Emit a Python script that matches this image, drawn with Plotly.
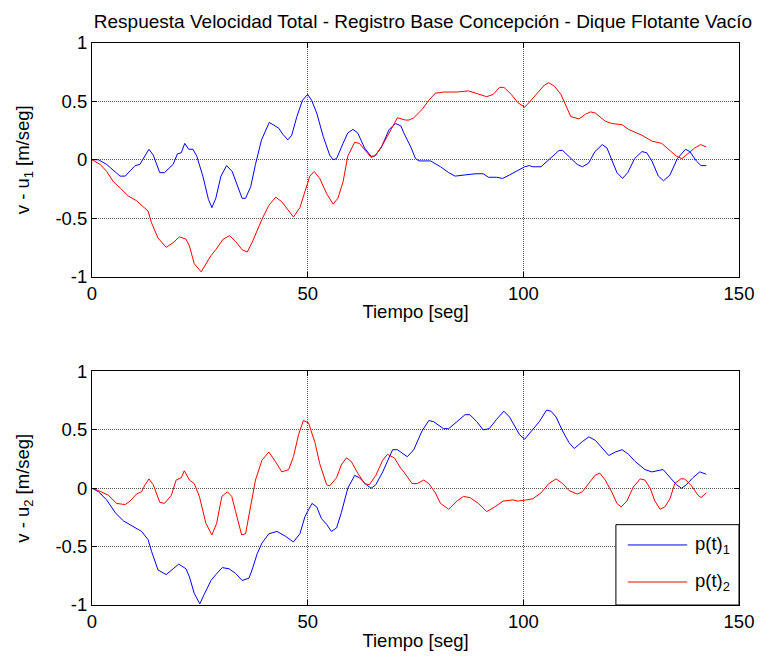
import plotly.graph_objects as go
from plotly.subplots import make_subplots

# ---------------- data ----------------
title_text = "Respuesta Velocidad Total - Registro Base Concepción - Dique Flotante Vacío"
x_ticks = [0, 50, 100, 150]
y_ticks = [-1, -0.5, 0, 0.5, 1]
y_tick_labels = ["-1", "-0.5", "0", "0.5", "1"]
legend_names = ["p(t)<sub>1</sub>", "p(t)<sub>2</sub>"]

# top panel (v - u1)
t_top_p1 = [0, 1.5, 3.4, 5, 6.5, 7.7, 10, 11.1, 12.3, 13.2, 14.2, 15.7, 16.8, 18.8, 19.8, 20.7, 21.5, 22.4,
            23.4, 24.3, 25.7, 27, 27.8, 28.7, 29.9, 31.2, 32.5, 33.7, 34.8, 35.6, 36.8, 37.9, 39.3, 41.1,
            43.3, 44.2, 45.4, 46.3, 47.5, 48.8, 50, 50.9, 52.1, 53.6, 55.1, 55.9, 56.7, 58.2, 59.3, 60.5,
            61.6, 63.2, 64.7, 65.5, 67, 68.9, 70.4, 71.6, 72.3, 73.9, 75, 75.8, 78.5, 80.8, 82.7, 84.2,
            86.9, 88.8, 90.7, 91.9, 93.8, 95.2, 96.8, 98.7, 100.3, 101.4, 102.2, 104.1, 106.2, 108.3,
            109.1, 111, 112.5, 113.7, 115.1, 116.6, 118.3, 119.4, 120.6, 121.7, 123, 124.2, 125.8, 127.5,
            128.6, 129.8, 131.3, 132.5, 134, 135.7, 137.6, 138.6, 140.1, 141.2, 142.4]
v_top_p1 = [0, 0, -0.04, -0.09, -0.14, -0.14, -0.05, -0.04, 0.04, 0.09, 0.04, -0.11, -0.11, -0.04, 0.05, 0.06,
            0.14, 0.09, 0.09, 0.03, -0.14, -0.34, -0.41, -0.33, -0.14, -0.05, -0.10, -0.23, -0.33, -0.33,
            -0.23, -0.04, 0.17, 0.32, 0.27, 0.22, 0.17, 0.21, 0.37, 0.51, 0.56, 0.51, 0.40, 0.20, 0.04, 0.0,
            0.01, 0.14, 0.23, 0.26, 0.23, 0.10, 0.03, 0.03, 0.10, 0.26, 0.31, 0.29, 0.23, 0.11, 0.01, -0.01,
            -0.01, -0.06, -0.11, -0.14, -0.13, -0.12, -0.12, -0.15, -0.15, -0.16, -0.13, -0.09, -0.06, -0.05,
            -0.06, -0.06, 0.01, 0.08, 0.08, 0.01, -0.04, -0.06, -0.03, 0.07, 0.13, 0.10, -0.01, -0.11, -0.16,
            -0.11, 0.01, 0.07, 0.06, -0.01, -0.14, -0.18, -0.13, 0.01, 0.09, 0.07, -0.01, -0.05, -0.05]

t_top_p2 = [0, 1.9, 3.4, 5, 6.5, 8.4, 10.3, 11.5, 13, 13.8, 15.3, 17.2, 18.8, 20.3, 21.8, 22.6, 23.7, 25.3,
            26.4, 27.6, 28.7, 30.4, 31.9, 33.3, 34.8, 36, 37.1, 38.3, 39.4, 41, 42.6, 44, 45.6, 46.7, 48.2,
            49.4, 50.5, 51.5, 52.8, 54.4, 55.9, 57, 58.2, 59.3, 60.9, 62, 63.2, 64.7, 65.8, 67.4, 68.9, 70.8,
            72.7, 73.5, 74.6, 76.5, 78.1, 79.6, 81.5, 84.6, 87.3, 89.2, 91.5, 93, 94.5, 95.5, 97.2, 98.7,
            100.3, 101.8, 103.7, 104.9, 105.9, 107.2, 108.7, 109.9, 111, 112.9, 114.4, 115.6, 116.7, 119,
            120.6, 122.9, 124.4, 127.5, 129.8, 132.1, 133.6, 135.5, 136.8, 138.2, 139.7, 141.1, 142.4]
v_top_p2 = [0, -0.04, -0.10, -0.19, -0.24, -0.31, -0.35, -0.39, -0.44, -0.54, -0.67, -0.75, -0.71, -0.66,
            -0.68, -0.74, -0.89, -0.96, -0.89, -0.82, -0.77, -0.68, -0.65, -0.70, -0.77, -0.79, -0.71, -0.60,
            -0.51, -0.39, -0.32, -0.36, -0.44, -0.49, -0.41, -0.26, -0.14, -0.10, -0.16, -0.29, -0.38, -0.33,
            -0.19, 0.03, 0.15, 0.14, 0.09, 0.02, 0.04, 0.13, 0.23, 0.36, 0.34, 0.34, 0.36, 0.43, 0.51, 0.57,
            0.58, 0.58, 0.59, 0.57, 0.54, 0.56, 0.62, 0.62, 0.56, 0.49, 0.45, 0.51, 0.59, 0.64, 0.66, 0.63,
            0.56, 0.46, 0.37, 0.35, 0.39, 0.41, 0.40, 0.33, 0.31, 0.30, 0.26, 0.21, 0.16, 0.14, 0.09, 0.03,
            0.01, 0.05, 0.10, 0.13, 0.11]

# bottom panel (v - u2)
t_bot_p1 = [0, 1.5, 3.4, 5.4, 7.3, 9.6, 11.5, 13, 13.8, 15.3, 17.2, 18.8, 20.1, 21.8, 22.6, 23.7, 25, 26,
            27.6, 28.7, 30.2, 31.8, 33.3, 34.8, 36.4, 37.1, 38.3, 39.4, 41, 42.9, 44.8, 46.7, 48.2, 49.4, 51,
            52.1, 53.2, 54.4, 55.5, 56.7, 57.8, 59.3, 60.9, 62, 63.6, 64.7, 65.8, 67.4, 69.7, 70.8, 73.1,
            74.6, 76.5, 78.1, 79.2, 81.5, 82.7, 84.6, 86.5, 87.6, 89.2, 90.7, 92.1, 93.8, 95.5, 96.8, 98,
            99.1, 100.3, 101.8, 103.7, 105.4, 106.4, 107.6, 109.1, 110.6, 111.8, 113.7, 115.2, 116.7, 118.3,
            119.8, 121.3, 122.9, 124.4, 125.9, 128.2, 129.8, 132.4, 133.6, 135.5, 136.7, 137.8, 139.3,
            140.9, 142.4]
v_bot_p1 = [0, -0.03, -0.10, -0.21, -0.28, -0.33, -0.37, -0.44, -0.54, -0.70, -0.74, -0.69, -0.65, -0.69,
            -0.76, -0.90, -0.99, -0.91, -0.79, -0.74, -0.68, -0.69, -0.73, -0.79, -0.77, -0.70, -0.56, -0.47,
            -0.39, -0.37, -0.41, -0.46, -0.39, -0.24, -0.13, -0.16, -0.26, -0.31, -0.37, -0.34, -0.21, 0.0,
            0.11, 0.09, 0.03, 0.0, 0.03, 0.14, 0.33, 0.33, 0.27, 0.33, 0.49, 0.58, 0.57, 0.51, 0.51, 0.57,
            0.63, 0.63, 0.57, 0.50, 0.51, 0.59, 0.66, 0.61, 0.53, 0.46, 0.42, 0.49, 0.57, 0.67, 0.66, 0.61,
            0.49, 0.39, 0.34, 0.40, 0.44, 0.41, 0.34, 0.28, 0.31, 0.33, 0.29, 0.23, 0.16, 0.14, 0.16, 0.11,
            0.03, 0.0, 0.03, 0.09, 0.14, 0.12]

t_bot_p2 = [0, 1.5, 3.8, 5.7, 7.7, 8.8, 10.3, 11.5, 12.3, 13.2, 14.2, 15.7, 16.8, 18.4, 19.5, 20.7, 21.4,
            22.6, 23.7, 24.9, 26.4, 27.8, 28.9, 30.1, 31.4, 32.4, 33.3, 34.7, 35.6, 36.8, 37.9, 39.4, 41,
            42.5, 44, 45.6, 46.7, 47.9, 49, 50.2, 51.7, 52.8, 54.4, 55.1, 56.7, 57.8, 59, 60.1, 61.6, 63.2,
            64.3, 65.8, 67.4, 68.5, 70.1, 71.6, 72.3, 74.2, 75.4, 76.9, 78.1, 79.6, 80.8, 82.7, 84.6, 86.1,
            87.6, 89.6, 91.5, 93.4, 95.3, 97.6, 98.7, 100.7, 102.2, 104.1, 105.9, 107.6, 109.1, 110.6, 112.5,
            113.7, 115.2, 116.6, 117.7, 119, 120.6, 121.7, 122.7, 124, 125.5, 127.1, 128.2, 129.4, 130.5,
            131.7, 132.8, 134, 135.1, 136.5, 137.4, 139, 140.5, 141.2, 142.4]
v_bot_p2 = [0, -0.02, -0.06, -0.13, -0.14, -0.11, -0.05, -0.03, 0.03, 0.08, 0.03, -0.12, -0.13, -0.06, 0.07,
            0.09, 0.15, 0.07, 0.04, -0.07, -0.30, -0.40, -0.30, -0.07, -0.03, -0.07, -0.20, -0.40, -0.39,
            -0.16, 0.07, 0.24, 0.31, 0.23, 0.14, 0.16, 0.27, 0.46, 0.58, 0.56, 0.39, 0.21, 0.03, 0.02, 0.09,
            0.20, 0.26, 0.23, 0.13, 0.04, 0.03, 0.11, 0.24, 0.29, 0.26, 0.17, 0.14, 0.04, 0.04, 0.07, 0.04,
            -0.04, -0.13, -0.18, -0.11, -0.07, -0.08, -0.13, -0.20, -0.16, -0.11, -0.10, -0.11, -0.10, -0.09,
            -0.04, 0.04, 0.08, 0.04, -0.02, -0.05, -0.03, 0.04, 0.11, 0.13, 0.07, -0.04, -0.13, -0.16, -0.11,
            0.01, 0.08, 0.07, 0.0, -0.11, -0.18, -0.16, -0.09, 0.04, 0.08, 0.08, 0.02, -0.06, -0.08, -0.04]

# ---------------- figure ----------------
W, H = 766, 660
FONT = "Liberation Sans, Arial, Helvetica, sans-serif"
FS = 18.5
FS_TITLE = 19
BLUE = "#0000FF"
RED = "#FF0000"

fig = make_subplots(rows=2, cols=1, shared_xaxes=False, vertical_spacing=0.0)

fig.add_trace(go.Scatter(x=t_top_p1, y=v_top_p1, mode="lines", line=dict(color=BLUE, width=1),
                         name=legend_names[0], showlegend=False), row=1, col=1)
fig.add_trace(go.Scatter(x=t_top_p2, y=v_top_p2, mode="lines", line=dict(color=RED, width=1),
                         name=legend_names[1], showlegend=False), row=1, col=1)
fig.add_trace(go.Scatter(x=t_bot_p1, y=v_bot_p1, mode="lines", line=dict(color=BLUE, width=1),
                         name=legend_names[0], showlegend=False), row=2, col=1)
fig.add_trace(go.Scatter(x=t_bot_p2, y=v_bot_p2, mode="lines", line=dict(color=RED, width=1),
                         name=legend_names[1], showlegend=False), row=2, col=1)

ml, mr, mt, mb = 91.7, 21.0, 43.3, 55.0
ph = H - mt - mb
pw = W - ml - mr
top_dom = [(605 - 276.7) / ph, 1.0]
bot_dom = [0.0, (605 - 371.6) / ph]

axis_common = dict(
    showline=True, linecolor="black", linewidth=1, mirror="ticks",
    ticks="inside", ticklen=5, tickcolor="black", tickwidth=1,
    showgrid=True, gridcolor="#555555", griddash="1px,1px", gridwidth=1,
    zeroline=False, tickfont=dict(family=FONT, size=FS, color="black"),
)

for r, dom, ylab in [(1, top_dom, "v - u<sub>1</sub> [m/seg]"), (2, bot_dom, "v - u<sub>2</sub> [m/seg]")]:
    fig.update_xaxes(range=[0, 150], tickvals=x_ticks, ticktext=[str(v) for v in x_ticks],
                     title=dict(text="Tiempo [seg]", font=dict(family=FONT, size=FS, color="black"), standoff=2),
                     row=r, col=1, **axis_common)
    fig.update_yaxes(range=[-1, 1], tickvals=y_ticks, ticktext=y_tick_labels, domain=dom,
                     title=dict(text=ylab, font=dict(family=FONT, size=FS, color="black"), standoff=20),
                     row=r, col=1, **axis_common)

# manual legend in bottom panel
shapes = [
    dict(type="rect", xref="paper", yref="paper", x0=(620.7 - ml) / pw, x1=(745.0 - ml) / pw,
         y0=((H - 605.0) - mb) / ph, y1=((H - 524.7) - mb) / ph,
         line=dict(color="black", width=1), fillcolor="white", layer="above"),
]
leg_rows = [(545.0, BLUE, legend_names[0]), (582.0, RED, legend_names[1])]
annotations = []
for yy, col, txt in leg_rows:
    yp = ((H - yy) - mb) / ph
    shapes.append(dict(type="line", xref="paper", yref="paper",
                       x0=(632.7 - ml) / pw, x1=(692.7 - ml) / pw,
                       y0=yp, y1=yp, line=dict(color=col, width=1), layer="above"))
    annotations.append(dict(xref="paper", yref="paper", x=(699.0 - ml) / pw, y=yp,
                            text=txt, showarrow=False, xanchor="left", yanchor="middle",
                            font=dict(family=FONT, size=FS, color="black")))

fig.update_layout(
    width=W, height=H,
    margin=dict(l=ml, r=mr, t=mt, b=mb, pad=0),
    paper_bgcolor="white", plot_bgcolor="white",
    showlegend=False,
    title=dict(text=title_text, x=423.0 / W, xref="container", xanchor="center",
               y=1 - 21.0 / H, yref="container", yanchor="middle",
               font=dict(family=FONT, size=FS_TITLE, color="black")),
    shapes=shapes, annotations=annotations,
    font=dict(family=FONT, size=FS, color="black"),
)

fig.write_html("out.html")
